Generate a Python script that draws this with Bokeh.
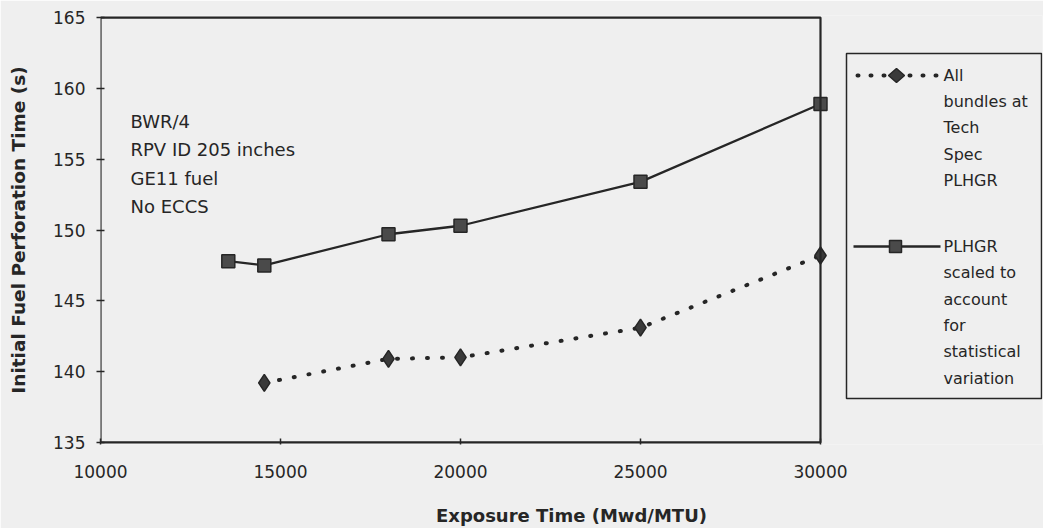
from bokeh.plotting import figure
from bokeh.embed import file_html
from bokeh.resources import INLINE
from bokeh.models import Range1d, FixedTicker, Label, PolyAnnotation, Arrow, BoxAnnotation

# ---- data ----
exposure_tech_spec = [14550, 18000, 20000, 25000, 30000]
time_tech_spec = [139.2, 140.9, 141.0, 143.1, 148.2]

exposure_scaled = [13550, 14550, 18000, 20000, 25000, 30000]
time_scaled = [147.8, 147.5, 149.7, 150.3, 153.4, 158.9]

x_ticks = [10000, 15000, 20000, 25000, 30000]
y_ticks = [135, 140, 145, 150, 155, 160, 165]
x_min, x_max = 10000, 30000
y_min, y_max = 135, 165

note_lines = ["BWR/4", "RPV ID 205 inches", "GE11 fuel", "No ECCS"]
legend1_lines = ["All", "bundles at", "Tech", "Spec", "PLHGR"]
legend2_lines = ["PLHGR", "scaled to", "account", "for", "statistical", "variation"]

BG = "#efefef"
INK = "#262626"
FONT = "DejaVu Sans"

# the frame is widened to the right so the hand-drawn legend lies inside it;
# the plot box itself is drawn from x_min..x_max / y_min..y_max
p = figure(width=1043, height=528,
           x_range=Range1d(x_min, 36167), y_range=Range1d(y_min - 0.15, y_max + 0.15),
           output_backend="svg", toolbar_location=None,
           min_border_left=100, min_border_right=1,
           min_border_top=15, min_border_bottom=84,
           background_fill_color=BG, border_fill_color=BG)
p.grid.visible = False
p.outline_line_color = None

for ax in (p.xaxis[0], p.yaxis[0]):
    ax.axis_line_color = None
    ax.major_tick_line_color = INK
    ax.major_tick_line_width = 1.5
    ax.minor_tick_line_color = None
    ax.major_label_text_font = FONT
    ax.major_label_text_font_size = "17px"
    ax.major_label_text_color = INK
    ax.axis_label_text_font = FONT
    ax.axis_label_text_font_style = "bold"
    ax.axis_label_text_color = INK

p.xaxis.ticker = FixedTicker(ticks=x_ticks)
p.yaxis.ticker = FixedTicker(ticks=y_ticks)
p.xaxis.major_tick_in = 6
p.xaxis.major_tick_out = 0
p.xaxis.major_label_standoff = 20
p.yaxis.major_tick_in = 4
p.yaxis.major_tick_out = 4
p.yaxis.major_label_standoff = 11
p.xaxis.axis_label = "Exposure Time (Mwd/MTU)"
p.yaxis.axis_label = "Initial Fuel Perforation Time (s)"
p.xaxis.axis_label_text_font_size = "18px"
p.yaxis.axis_label_text_font_size = "18.5px"
p.xaxis.axis_label_standoff = 24
p.yaxis.axis_label_standoff = 21

# plot box
p.add_layout(BoxAnnotation(left=x_min, right=x_max, bottom=y_min, top=y_max,
                           fill_alpha=0, line_color=INK, line_alpha=1, line_width=2.2))

# ---- series ----
p.line(exposure_scaled, time_scaled, line_color=INK, line_width=2.3)
p.scatter(exposure_scaled, time_scaled, marker="square", size=13,
          fill_color="#4a4a4a", line_color=INK, line_width=1.5)

p.line(exposure_tech_spec, time_tech_spec, line_color=INK, line_width=4,
       line_dash="1 14", line_cap="round")
p.scatter(exposure_tech_spec, time_tech_spec, marker="diamond", size=17,
          fill_color="#3a3a3a", line_color=INK, line_width=1.5)

# ---- annotation text (screen units relative to the plot frame) ----
note_y = [323, 295, 266, 238]
for txt, yy in zip(note_lines, note_y):
    p.add_layout(Label(x=30, y=yy, x_units="screen", y_units="screen", text=txt,
                       text_font=FONT, text_font_size="18px",
                       text_color=INK, text_baseline="middle"))

# ---- legend (drawn by hand, frame-relative screen units) ----
p.add_layout(BoxAnnotation(left=746, right=941, top=391, bottom=46,
                           left_units="screen", right_units="screen",
                           top_units="screen", bottom_units="screen",
                           fill_alpha=0, line_color=INK, line_alpha=1, line_width=1.5))

# item 1: dotted line with diamond
y1 = 369
p.add_layout(Arrow(end=None, start=None, x_start=757, y_start=y1, x_end=840, y_end=y1,
                   start_units="screen", end_units="screen",
                   line_color=INK, line_width=4, line_dash="1 12", line_cap="round"))
p.add_layout(PolyAnnotation(xs=[796 - 8, 796, 796 + 8, 796], ys=[y1, y1 + 7, y1, y1 - 7],
                            xs_units="screen", ys_units="screen",
                            fill_color="#3a3a3a", fill_alpha=1, line_color=INK,
                            line_alpha=1, line_width=1.5))
for i, txt in enumerate(legend1_lines):
    p.add_layout(Label(x=843, y=y1 - i * 26.2, x_units="screen", y_units="screen", text=txt,
                       text_font=FONT, text_font_size="16px",
                       text_color=INK, text_baseline="middle"))

# item 2: solid line with square
y2 = 198
p.add_layout(Arrow(end=None, start=None, x_start=753, y_start=y2, x_end=840, y_end=y2,
                   start_units="screen", end_units="screen",
                   line_color=INK, line_width=2.3))
p.add_layout(PolyAnnotation(xs=[789, 801, 801, 789], ys=[y2 - 6, y2 - 6, y2 + 6, y2 + 6],
                            xs_units="screen", ys_units="screen",
                            fill_color="#4a4a4a", fill_alpha=1, line_color=INK,
                            line_alpha=1, line_width=1.5))
for i, txt in enumerate(legend2_lines):
    p.add_layout(Label(x=843, y=y2 - i * 26.3, x_units="screen", y_units="screen", text=txt,
                       text_font=FONT, text_font_size="16px",
                       text_color=INK, text_baseline="middle"))

open("out.html", "w").write(file_html(p, INLINE))
